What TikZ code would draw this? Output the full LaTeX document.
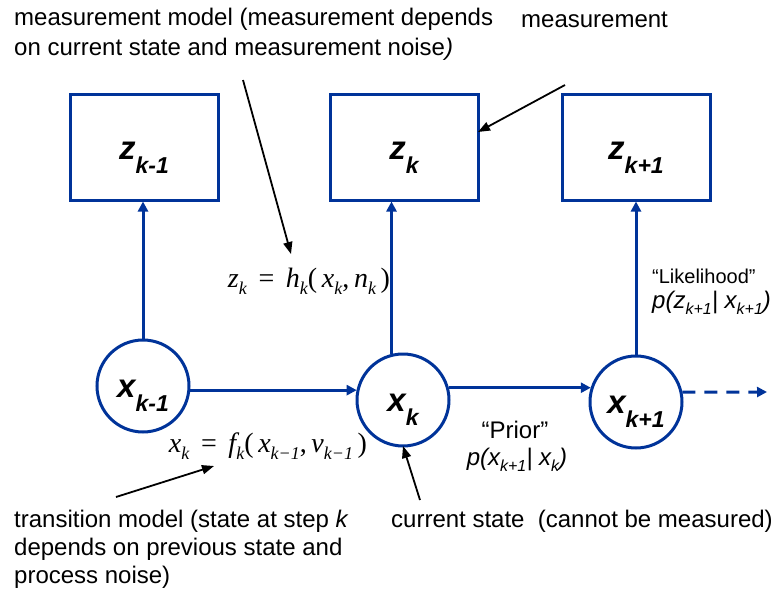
\documentclass[tikz,border=0pt]{standalone}
\usepackage{fontspec}
\setmainfont{Liberation Sans}
\newfontfamily\tms{Liberation Serif}
\usetikzlibrary{arrows.meta,calc}
\definecolor{kblue}{RGB}{0,51,153}
\newcommand\fsz[1]{\fontsize{#1}{#1}\selectfont}
\newcommand\bigvar[2]{{\fsz{33}\bfseries\itshape #1}\raisebox{-14pt}{\fsz{23}\bfseries\itshape #2}}
\newcommand\tsub[1]{\raisebox{-7pt}{\fsz{18}\itshape #1}}
\newcommand\psub[1]{\raisebox{-6pt}{\fsz{16}\itshape #1}}
\tikzset{
  state/.style={circle,draw=kblue,line width=3pt,minimum size=92pt,inner sep=0pt,text height=27pt,text depth=5pt},
  obs/.style={rectangle,draw=kblue,line width=3pt,minimum width=148pt,minimum height=106pt,inner sep=0pt,text height=27pt,text depth=2pt},
  blink/.style={kblue,line width=3pt,-{Triangle[length=10pt,width=10pt]}},
  note/.style={black,line width=1.8pt,-{Triangle[length=12pt,width=9pt]}},
  txt/.style={font=\fsz{24},inner sep=0pt},
  eq/.style={font=\tms\fsz{28},inner sep=0pt}
}
\begin{document}
\begin{tikzpicture}[x=1pt,y=-1pt]
\useasboundingbox (0,0) rectangle (780,590);
% boxes
\node[obs] (za) at (144,147) {\bigvar{z}{k-1}};
\node[obs] (zb) at (404,147) {\bigvar{z}{k}};
\node[obs] (zc) at (636,147) {\bigvar{z}{k+1}};
% states
\node[state] (xa) at (143,386) {\bigvar{x}{k-1}};
\node[state] (xb) at (403,400) {\bigvar{x}{k}};
\node[state] (xc) at (636,402) {\bigvar{x}{k+1}};
\coordinate (xd) at (767,392);
% blue connectors
\draw[blink] (xa.north) -- (xa.north |- za.south);
\draw[blink] (xb.104) -- (xb.104 |- zb.south);
\draw[blink] (xc.north) -- (xc.north |- zc.south);
\draw[blink] (xa.-5) -- (xa.-5 -| xb.167);
\draw[blink] (xb.15) -- (xb.15 -| xc.162);
\draw[blink,dashed,dash pattern=on 13pt off 9pt] (xc.12) -- (xd);
% equations
\node[eq,anchor=base] (eqz) at (309,287) {\itshape z\tsub{k}\upshape\ \,=\ \,\itshape h\tsub{k}\upshape(\,\itshape x\tsub{k}\upshape,\,\itshape n\tsub{k}\upshape\,)};
\node[eq,anchor=base] (eqx) at (268,452) {\itshape x\tsub{k}\upshape\ \,=\ \,\itshape f\tsub{k}\upshape(\,\itshape x\tsub{k−1}\upshape,\,\itshape v\tsub{k−1}\upshape\,)};
% annotations
\node[txt,anchor=base west] (mm1) at (14,25) {measurement model (measurement depends};
\node[txt,anchor=base west] (mm2) at (14,55) {on current state and measurement noise\textit{)}};
\node[txt,anchor=base west] (meas) at (521,27) {measurement};
\node[txt,anchor=base west] (tm1) at (14,527) {transition model (state at step \textit{k}};
\node[txt,anchor=base west] (tm2) at (14,555) {depends on previous state and};
\node[txt,anchor=base west] (tm3) at (14,583) {process noise)};
\node[txt,anchor=base west] (cs) at (391,527) {current state\ \ (cannot be measured)};
\node[txt,anchor=base] (pr) at (515,438) {“Prior”};
\node[txt,anchor=base] (prp) at (517,465) {\textit{p(x\psub{k+1}| x\psub{k})}};
\node[txt,anchor=base west,font=\fsz{20}] (lk) at (652,283) {“Likelihood”};
\node[txt,anchor=base west] (lkp) at (652,308) {\textit{p(z\psub{k+1}| x\psub{k+1})}};
% black arrows
\coordinate (mmA) at (243,80);
\coordinate (mmB) at (291,254);
\draw[note] (mmA) -- (mmB);
\coordinate (msA) at (565,85);
\coordinate (msB) at (478,132);
\draw[note] (msA) -- (msB);
\coordinate (tmA) at (116,497);
\coordinate (tmB) at (214,466);
\draw[note] (tmA) -- (tmB);
\coordinate (csA) at (420,500);
\coordinate (csB) at (403,446);
\draw[note] (csA) -- (csB);
\end{tikzpicture}
\end{document}
